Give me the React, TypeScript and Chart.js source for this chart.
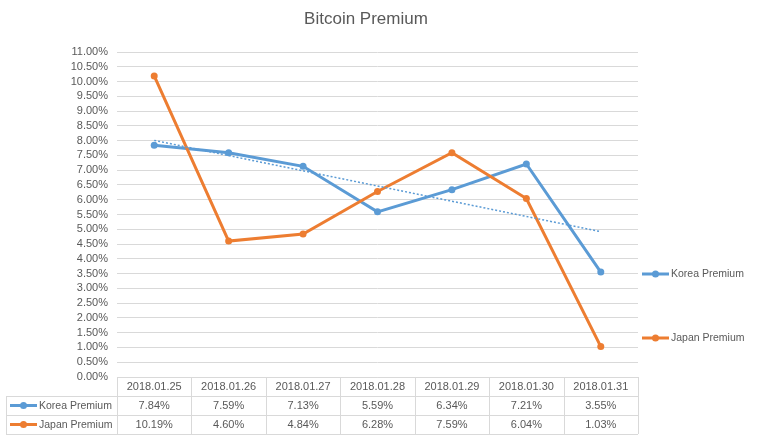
import React, { useEffect, useRef } from "react";
import { Chart, registerables } from "chart.js";

Chart.register(...registerables);

const categories = ["2018.01.25", "2018.01.26", "2018.01.27", "2018.01.28", "2018.01.29", "2018.01.30", "2018.01.31"];
const koreaPremium = [7.84, 7.59, 7.13, 5.59, 6.34, 7.21, 3.55];
const japanPremium = [10.19, 4.6, 4.84, 6.28, 7.59, 6.04, 1.03];
const seriesNames = ["Korea Premium", "Japan Premium"];
const seriesColors = ["#5B9BD5", "#ED7D31"];

// Linear trendline (least squares) over the Korea series, as Excel draws it
function linearTrend(values: number[]): number[] {
  const n = values.length;
  const xs = values.map((_, i) => i + 1);
  const mx = xs.reduce((a, b) => a + b, 0) / n;
  const my = values.reduce((a, b) => a + b, 0) / n;
  let num = 0;
  let den = 0;
  for (let i = 0; i < n; i++) {
    num += (xs[i] - mx) * (values[i] - my);
    den += (xs[i] - mx) * (xs[i] - mx);
  }
  const slope = num / den;
  return xs.map((x) => my + slope * (x - mx));
}

const FONT = "'Liberation Sans', Arial, sans-serif";
const TEXT = "#595959";
const GRID = "#D9D9D9";

const fmt = (v: number) => v.toFixed(2) + "%";

const tablePlugin = {
  id: "excelTable",
  afterDraw(chart: any) {
    const ctx = chart.ctx as CanvasRenderingContext2D;
    const x = chart.scales.x;
    const area = chart.chartArea;
    const n = categories.length;
    const colW = (area.right - area.left) / n;
    const top = area.bottom;
    const rowH = 19;
    const leftEdge = 6;
    ctx.save();
    ctx.strokeStyle = GRID;
    ctx.lineWidth = 1;
    const hl = (y: number, x0: number, x1: number) => {
      ctx.beginPath();
      ctx.moveTo(x0, Math.round(y) + 0.5);
      ctx.lineTo(x1, Math.round(y) + 0.5);
      ctx.stroke();
    };
    const vl = (xx: number, y0: number, y1: number) => {
      ctx.beginPath();
      ctx.moveTo(Math.round(xx) + 0.5, y0);
      ctx.lineTo(Math.round(xx) + 0.5, y1);
      ctx.stroke();
    };
    hl(top, area.left, area.right);
    hl(top + rowH, leftEdge, area.right);
    hl(top + rowH * 2, leftEdge, area.right);
    hl(top + rowH * 3, leftEdge, area.right);
    vl(leftEdge, top + rowH, top + rowH * 3);
    for (let i = 0; i <= n; i++) {
      vl(area.left + colW * i, top, top + rowH * 3);
    }
    ctx.fillStyle = TEXT;
    ctx.font = `11px ${FONT}`;
    ctx.textAlign = "center";
    ctx.textBaseline = "middle";
    categories.forEach((c, i) => {
      const cx = x.getPixelForValue(i);
      ctx.fillText(c, cx, top + rowH * 0.5 + 0.5);
      ctx.fillText(fmt(koreaPremium[i]), cx, top + rowH * 1.5 + 0.5);
      ctx.fillText(fmt(japanPremium[i]), cx, top + rowH * 2.5 + 0.5);
    });
    ctx.font = `10.5px ${FONT}`;
    seriesNames.forEach((name, s) => {
      const cy = top + rowH * (1.5 + s);
      ctx.strokeStyle = seriesColors[s];
      ctx.lineWidth = 3;
      ctx.beginPath();
      ctx.moveTo(10, cy);
      ctx.lineTo(37, cy);
      ctx.stroke();
      ctx.fillStyle = seriesColors[s];
      ctx.beginPath();
      ctx.arc(23.5, cy, 3.5, 0, Math.PI * 2);
      ctx.fill();
      ctx.fillStyle = TEXT;
      ctx.textAlign = "left";
      ctx.fillText(name, 39, cy + 0.5);
    });
    const legendY = [274, 338];
    seriesNames.forEach((name, s) => {
      const cy = legendY[s];
      ctx.strokeStyle = seriesColors[s];
      ctx.lineWidth = 3;
      ctx.beginPath();
      ctx.moveTo(642, cy);
      ctx.lineTo(669, cy);
      ctx.stroke();
      ctx.fillStyle = seriesColors[s];
      ctx.beginPath();
      ctx.arc(655.5, cy, 3.5, 0, Math.PI * 2);
      ctx.fill();
      ctx.fillStyle = TEXT;
      ctx.textAlign = "left";
      ctx.fillText(name, 671, cy + 0.5);
    });
    ctx.font = `17px ${FONT}`;
    ctx.textAlign = "center";
    ctx.fillText("Bitcoin Premium", 366, 19);
    ctx.restore();
  },
};

export default function App() {
  const ref = useRef<HTMLCanvasElement | null>(null);
  useEffect(() => {
    document.body.style.margin = "0";
    if (!ref.current) return;
    const chart = new Chart(ref.current, {
      type: "line",
      data: {
        labels: categories,
        datasets: [
          {
            label: seriesNames[0],
            data: koreaPremium,
            borderColor: seriesColors[0],
            backgroundColor: seriesColors[0],
            borderWidth: 3,
            pointRadius: 3.5,
            pointBorderWidth: 0,
            pointBackgroundColor: seriesColors[0],
            tension: 0,
            order: 3,
          },
          {
            label: seriesNames[1],
            data: japanPremium,
            borderColor: seriesColors[1],
            backgroundColor: seriesColors[1],
            borderWidth: 3,
            pointRadius: 3.5,
            pointBorderWidth: 0,
            pointBackgroundColor: seriesColors[1],
            tension: 0,
            order: 2,
          },
          {
            label: "Linear (Korea Premium)",
            data: linearTrend(koreaPremium),
            borderColor: seriesColors[0],
            borderWidth: 1.5,
            borderDash: [2, 2],
            pointRadius: 0,
            tension: 0,
            order: 1,
          },
        ],
      },
      options: {
        responsive: false,
        animation: false,
        events: [],
        layout: { padding: { top: 52, bottom: 71, right: 121, left: 0 } },
        plugins: {
          legend: { display: false },
          title: { display: false },
          tooltip: { enabled: false },
        },
        scales: {
          x: {
            display: false,
            offset: true,
          },
          y: {
            min: 0,
            max: 11,
            afterFit: (s: any) => {
              s.width = 117;
            },
            border: { display: false },
            grid: { color: GRID, drawTicks: false, lineWidth: 1 },
            ticks: {
              stepSize: 0.5,
              autoSkip: false,
              padding: 9,
              color: TEXT,
              font: { family: FONT, size: 11 },
              callback: (v: any) => Number(v).toFixed(2) + "%",
            },
          },
        },
      },
      plugins: [tablePlugin],
    });
    return () => chart.destroy();
  }, []);
  return (
    <div style={{ width: 759, height: 448, background: "#fff" }}>
      <canvas ref={ref} width={759} height={448} style={{ display: "block" }} />
    </div>
  );
}
